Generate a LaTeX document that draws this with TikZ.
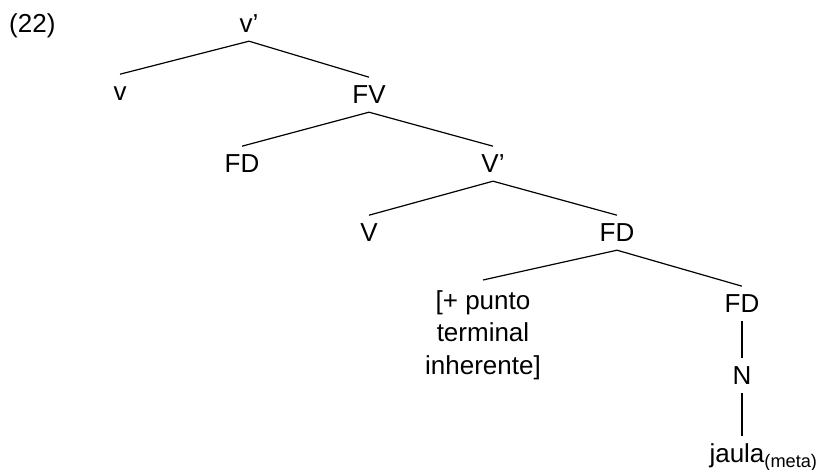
\documentclass[tikz,border=0pt]{standalone}
\usepackage{fontspec}
\setmainfont{Liberation Sans}
\begin{document}
\begin{tikzpicture}[x=1pt,y=-1pt,
  lab/.style={font=\fontsize{26}{32.5}\selectfont, text height=18.6pt, text depth=0pt, inner xsep=0pt, inner ysep=8pt, anchor=base},
  multi/.style={font=\fontsize{26}{32.5}\selectfont, align=center, inner xsep=0pt, inner ysep=7pt, anchor=north},
  edge/.style={line width=1.2pt}]
\useasboundingbox (0,0) rectangle (823,470);
\node[lab, anchor=base west] (ex) at (9,33) {(22)};
\node[lab] (vp) at (249,33) {v’};
\node[lab] (v) at (120,101) {v};
\node[lab] (fv) at (369,104) {FV};
\node[lab] (fd1) at (242,173) {FD};
\node[lab] (vbar) at (493,173) {V’};
\node[lab] (V) at (369,242) {V};
\node[lab] (fd2) at (617,242) {FD};
\node[multi] (punto) at (483,283) {[+ punto\\terminal\\inherente]};
\node[lab] (fd3) at (742,313) {FD};
\node[lab] (n) at (742,385) {N};
\node[lab] (jaula) at (737,463) {jaula\rlap{\textsubscript{(meta)}}};
\draw[edge] (vp.south) -- (v.north);
\draw[edge] (vp.south) -- (fv.north);
\draw[edge] (fv.south) -- (fd1.north);
\draw[edge] (fv.south) -- (vbar.north);
\draw[edge] (vbar.south) -- (V.north);
\draw[edge] (vbar.south) -- (fd2.north);
\draw[edge] (fd2.south) -- ([yshift=3pt]punto.north);
\draw[edge] (fd2.south) -- (fd3.north);
\draw[edge] (fd3.south) -- (n.north);
\draw[edge] (n.south) -- (n.south |- jaula.north);
\end{tikzpicture}
\end{document}
